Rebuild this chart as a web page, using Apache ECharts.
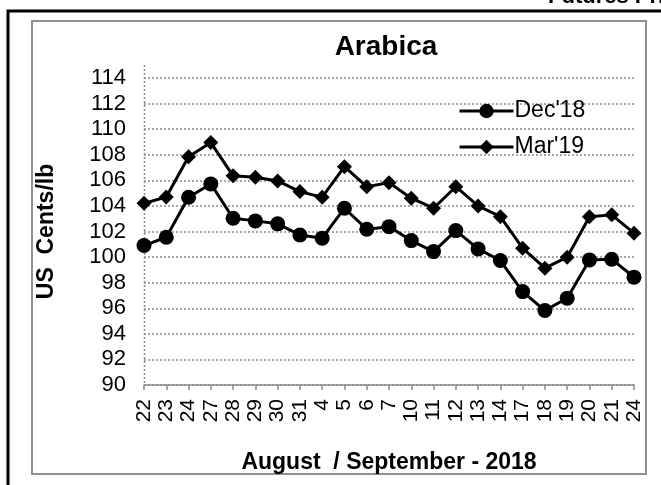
<!DOCTYPE html>
<html>
<head>
<meta charset="utf-8">
<script src="https://cdn.jsdelivr.net/npm/echarts@6/dist/echarts.min.js"></script>
<style>
  html, body { margin: 0; padding: 0; background: #fff; }
  #arabica { width: 661px; height: 485px; }
</style>
</head>
<body>
<div id="arabica"></div>
<script>
// trading days, August / September 2018
const days = ['22','23','24','27','28','29','30','31','4','5','6','7','10','11','12','13','14','17','18','19','20','21','24']
// US cents/lb
const dec18 = [100.9, 101.55, 104.68, 105.72, 103.04, 102.83, 102.6, 101.73, 101.48, 103.82, 102.18, 102.38,
  101.29, 100.43, 102.07, 100.64, 99.73, 97.3, 95.82, 96.79, 99.78, 99.83, 98.43]
const mar19 = [104.2, 104.7, 107.85, 108.95, 106.35, 106.24, 105.95, 105.12, 104.68, 107.07, 105.5, 105.82,
  104.6, 103.82, 105.5, 104.0, 103.16, 100.7, 99.13, 99.99, 103.16, 103.3, 101.87]
const seriesNames = ["Dec'18", "Mar'19"]
const yMin = 90, yMax = 114, yStep = 2

const font = 'Liberation Sans, Arial, sans-serif'
const chart = echarts.init(document.getElementById('arabica'))

const option = {
  backgroundColor: '#fff',
  animation: false,
  graphic: [
    // outer frame (runs off the picture right and bottom)
    { type: 'rect', shape: { x: 8, y: 11, width: 720, height: 520 }, style: { fill: 'none', stroke: '#000', lineWidth: 3 } },
    // chart area frame
    { type: 'rect', shape: { x: 32, y: 21, width: 614, height: 453 }, style: { fill: 'none', stroke: '#909090', lineWidth: 2 } },
    { type: 'text', x: 548, y: 8, style: { text: 'Futures Prices', font: 'bold 22px ' + font, fill: '#000', textVerticalAlign: 'bottom' } },
    { type: 'text', x: 386, y: 47, style: { text: 'Arabica', font: 'bold 28px ' + font, fill: '#000', textAlign: 'center', textVerticalAlign: 'middle' } },
    // dotted value axis line, a bit taller than the top gridline
    { type: 'line', shape: { x1: 144.5, y1: 65, x2: 144.5, y2: 385 }, style: { stroke: '#8c8c8c', lineWidth: 1.5, lineDash: [2, 2] } }
  ],
  legend: {
    orient: 'vertical',
    left: 453,
    top: 93,
    itemWidth: 54,
    itemHeight: 18,
    itemGap: 10,
    data: seriesNames,
    lineStyle: { width: 3, color: '#000' },
    textStyle: { fontFamily: font, fontSize: 23, color: '#000', lineHeight: 26, padding: [0, 0, 0, -4] }
  },
  grid: { left: 144, right: 27, top: 78, bottom: 100 },
  xAxis: {
    type: 'category',
    data: days,
    boundaryGap: false,
    name: 'August  / September - 2018',
    nameLocation: 'middle',
    nameGap: 66,
    nameTextStyle: { fontFamily: font, fontSize: 23, fontWeight: 'bold', color: '#000' },
    axisLine: { lineStyle: { color: '#8c8c8c', width: 1.5 } },
    axisTick: { show: true, inside: false, length: 5, alignWithLabel: true, lineStyle: { color: '#8c8c8c', width: 1.5 } },
    axisLabel: { rotate: 90, margin: 14, interval: 0, fontFamily: font, fontSize: 21, color: '#000' },
    splitLine: { show: false }
  },
  yAxis: {
    type: 'value',
    min: yMin,
    max: yMax,
    interval: yStep,
    name: 'US  Cents/lb',
    nameLocation: 'middle',
    nameRotate: 90,
    nameGap: 86,
    nameTextStyle: { fontFamily: font, fontSize: 23, fontWeight: 'bold', color: '#000' },
    axisLine: { show: false },
    axisTick: { show: false },
    axisLabel: { margin: 18, fontFamily: font, fontSize: 22, color: '#000' },
    splitLine: { show: true, lineStyle: { color: '#8c8c8c', width: 1.5, type: [2, 2] } }
  },
  series: [
    {
      name: seriesNames[0], type: 'line', data: dec18,
      symbol: 'circle', symbolSize: 15,
      lineStyle: { color: '#000', width: 3 },
      itemStyle: { color: '#000' },
      z: 3
    },
    {
      name: seriesNames[1], type: 'line', data: mar19,
      symbol: 'diamond', symbolSize: 15,
      lineStyle: { color: '#000', width: 3 },
      itemStyle: { color: '#000' },
      z: 3
    }
  ]
}

chart.setOption(option)
</script>
</body>
</html>
